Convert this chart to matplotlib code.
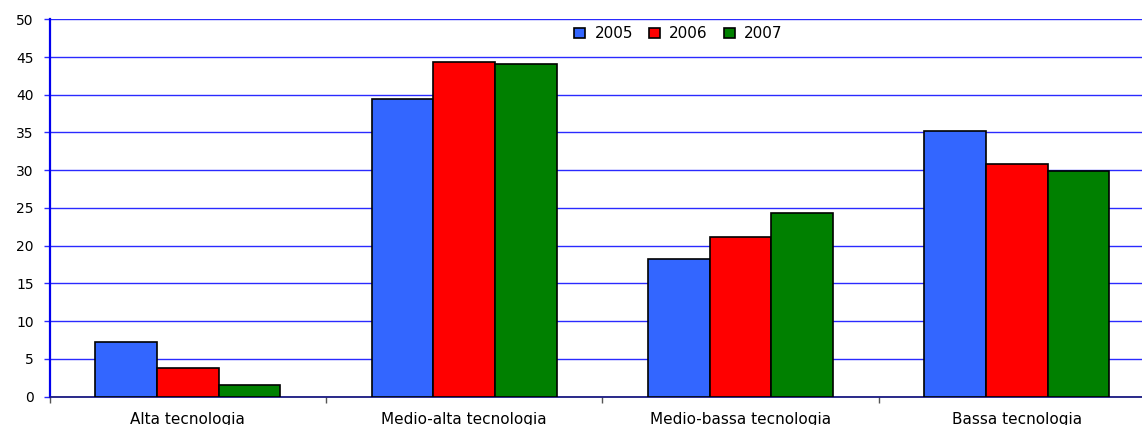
import matplotlib
matplotlib.use("Agg")
import matplotlib.pyplot as plt
import numpy as np

plt.rcParams['font.family'] = ['DejaVu Sans']

categories = ["Alta tecnologia", "Medio-alta tecnologia",
              "Medio-bassa tecnologia", "Bassa tecnologia"]
years = ["2005", "2006", "2007"]
values_2005 = [7.2, 39.4, 18.2, 35.2]
values_2006 = [3.8, 44.3, 21.1, 30.8]
values_2007 = [1.5, 44.1, 24.3, 29.9]
y_ticks = [0, 5, 10, 15, 20, 25, 30, 35, 40, 45, 50]

series = [values_2005, values_2006, values_2007]
colors = ["#3366FF", "#FF0000", "#008000"]

W, H = 1142, 425
fig = plt.figure(figsize=(W / 100, H / 100), dpi=100)
left, right = 49.5, 1155
bottom, top = 396.5, 19.3
ax = fig.add_axes([left / W, (H - bottom) / H, (right - left) / W, (bottom - top) / H])

x = np.arange(len(categories))
bw = 0.223
for i, (vals, col, yr) in enumerate(zip(series, colors, years)):
    ax.bar(x + (i - 1) * bw, vals, width=bw, color=col, edgecolor="black",
           linewidth=1.2, label=yr, zorder=3)

ax.set_xlim(-0.5, len(categories) - 0.5)
ax.set_ylim(0, 50)
ax.set_yticks(y_ticks)
ax.yaxis.grid(True, color="#2a2aff", linewidth=1.0, zorder=0)
ax.set_axisbelow(True)

for s in ["top", "right"]:
    ax.spines[s].set_visible(False)
ax.spines["left"].set_color("#0000EE")
ax.spines["left"].set_linewidth(1.6)
ax.spines["bottom"].set_color("#1a1a80")
ax.spines["bottom"].set_linewidth(1.3)

ax.set_xticks(x)
ax.set_xticklabels(categories, fontsize=11)
ax.tick_params(axis="x", length=0, pad=11)
ax.set_xticks(np.arange(-0.5, len(categories), 1.0), minor=True)
ax.tick_params(axis="x", which="minor", length=4, color="#555555", width=1)
ax.tick_params(axis="y", length=4.3, color="#2a2aff", width=1, labelsize=10, pad=7)

leg = ax.legend(loc="center", bbox_to_anchor=(0.569, 0.962), ncol=3, frameon=False,
                fontsize=11, handlelength=0.72, handleheight=0.65, handletextpad=0.6,
                columnspacing=1.05, borderpad=0.2)

fig.savefig("out.png", dpi=100)
